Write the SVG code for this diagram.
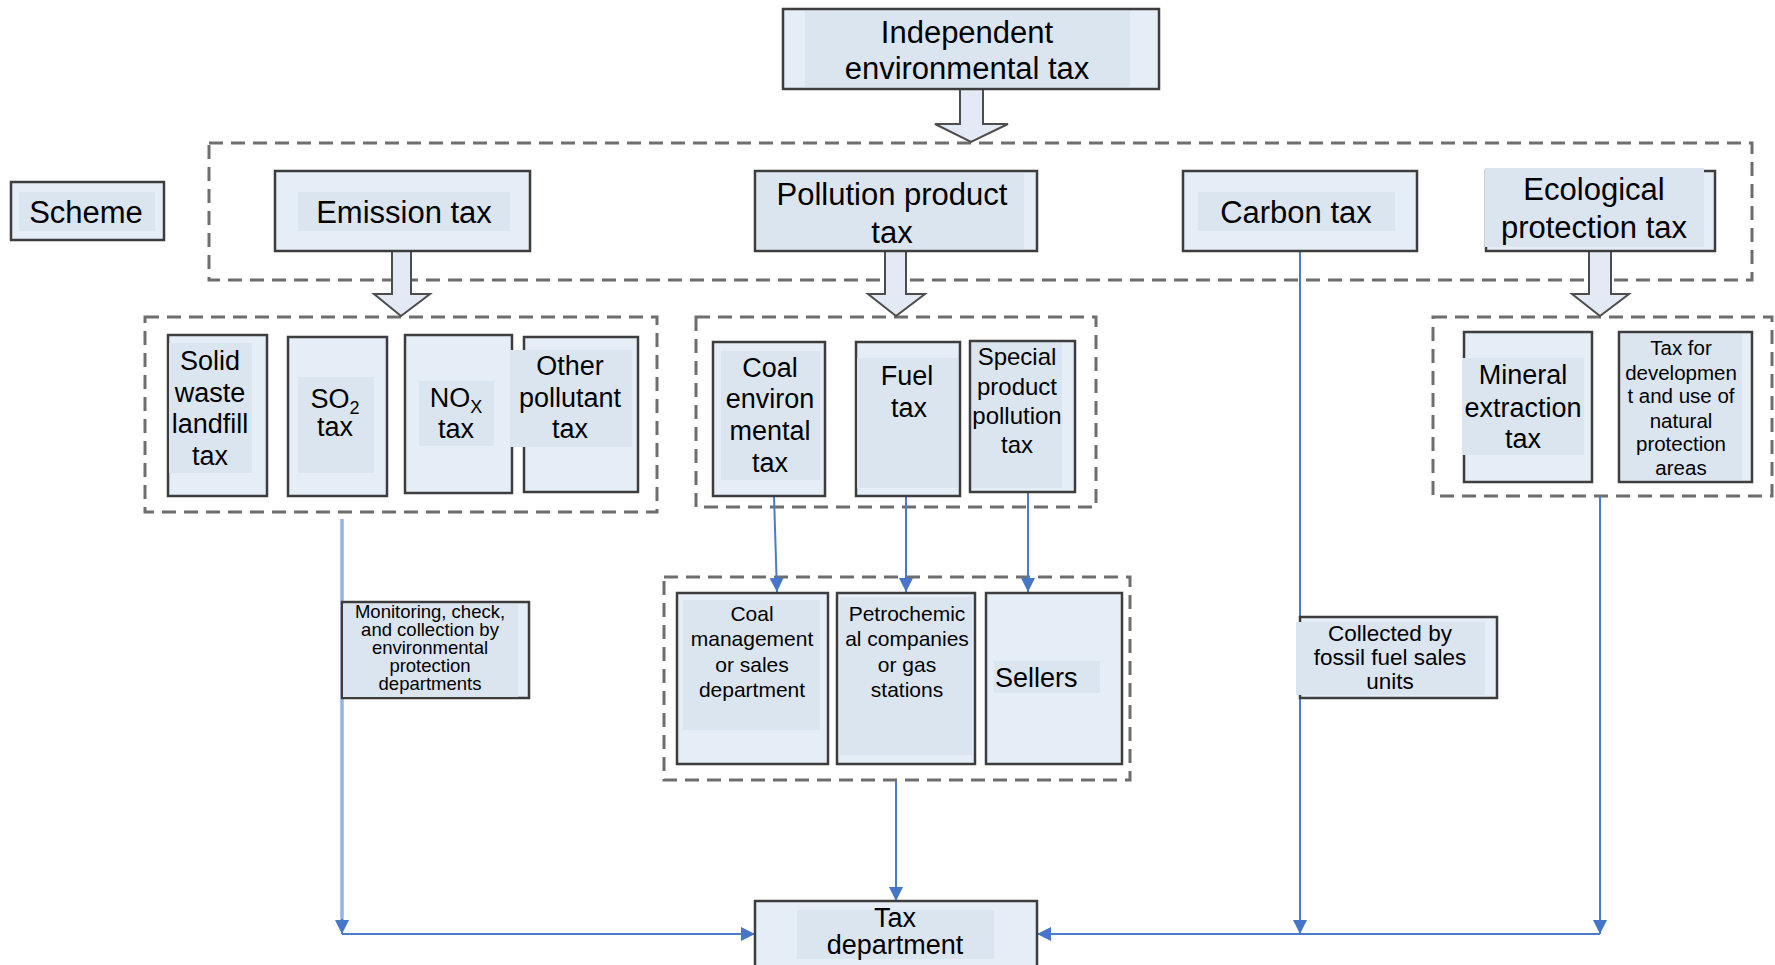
<svg xmlns="http://www.w3.org/2000/svg" width="1775" height="965" viewBox="0 0 1775 965">
<defs>
<style>
.box{fill:#e5edf7;stroke:#3d3d3d;stroke-width:2.5}
.hl{fill:#dbe5f0;stroke:none}
.grp{fill:none;stroke:#6e6e6e;stroke-width:3;stroke-dasharray:14 8}
.t{font-family:"Liberation Sans",Arial,sans-serif;fill:#000;text-anchor:middle}
.L{font-size:31px}
.M{font-size:27px}
.hollow{fill:#e3eaf5;stroke:#4d4d4d;stroke-width:2}
.conn{fill:none;stroke:#4a7cc9;stroke-width:2}
.connL{fill:none;stroke:#95b4e4;stroke-width:3.5}
</style>
<marker id="ah" markerUnits="userSpaceOnUse" markerWidth="16" markerHeight="16" refX="14" refY="7" orient="auto">
<path d="M0,0 L14,7 L0,14 z" fill="#4676c8"/>
</marker>
</defs>
<rect width="1775" height="965" fill="#fff"/>

<g id="groups">
<rect class="grp" x="209" y="143" width="1543" height="137"/>
<rect class="grp" x="145" y="317" width="512" height="195"/>
<rect class="grp" x="696" y="317" width="400" height="190"/>
<rect class="grp" x="1433" y="317" width="339" height="179"/>
<rect class="grp" x="664" y="577" width="466" height="203"/>
</g>

<g id="connectors">
<path class="connL" d="M342,519 V925"/>
<path class="conn" d="M342,919 V934" marker-end="url(#ah)"/>
<path class="conn" d="M342,934 H755" stroke-width="3" marker-end="url(#ah)"/>
<path class="conn" d="M896,781 V901" marker-end="url(#ah)"/>
<path class="conn" d="M1300,251 V934" marker-end="url(#ah)"/>
<path class="conn" d="M1600,496 V934" marker-end="url(#ah)"/>
<path class="conn" d="M1600,934 H1037" stroke-width="2.5" marker-end="url(#ah)"/>
<path class="conn" d="M774,496 L777,592" marker-end="url(#ah)"/>
<path class="conn" d="M906,496 V592" marker-end="url(#ah)"/>
<path class="conn" d="M1028,492 V592" marker-end="url(#ah)"/>
<polygon class="hollow" points="960,89 983,89 983,124 1008,124 971,142 935,124 960,124"/>
<polygon class="hollow" points="392,251 411,251 411,294 430,294 401,316 374,294 392,294"/>
<polygon class="hollow" points="885,251 906,251 906,294 925,294 896,316 868,294 885,294"/>
<polygon class="hollow" points="1589,251 1611,251 1611,294 1629,294 1600,316 1572,294 1589,294"/>
</g>

<g id="independent">
<rect class="box" x="783" y="9" width="376" height="80"/>
<rect class="hl" x="805" y="11" width="325" height="76"/>
<text class="t L" x="967" y="43">Independent</text>
<text class="t L" x="967" y="79">environmental tax</text>
</g>

<g id="scheme">
<rect class="box" x="11" y="182" width="153" height="58"/>
<rect class="hl" x="19" y="192" width="136" height="39"/>
<text class="t L" x="86" y="223">Scheme</text>
</g>

<g id="emission">
<rect class="box" x="275" y="171" width="255" height="80"/>
<rect class="hl" x="298" y="192" width="212" height="39"/>
<text class="t L" x="404" y="223">Emission tax</text>
</g>

<g id="pollution">
<rect class="box" x="755" y="171" width="282" height="80"/>
<rect class="hl" x="757" y="173" width="267" height="76"/>
<text class="t L" x="892" y="205">Pollution product</text>
<text class="t L" x="892" y="243">tax</text>
</g>

<g id="carbon">
<rect class="box" x="1183" y="171" width="234" height="80"/>
<rect class="hl" x="1198" y="192" width="197" height="39"/>
<text class="t L" x="1296" y="223">Carbon tax</text>
</g>

<g id="ecological">
<rect class="box" x="1486" y="171" width="229" height="80"/>
<rect class="hl" x="1485" y="168" width="219" height="79"/>
<text class="t L" x="1594" y="200">Ecological</text>
<text class="t L" x="1594" y="238">protection tax</text>
</g>

<g id="solid-waste">
<rect class="box" x="168" y="335" width="99" height="161"/>
<rect class="hl" x="169" y="343" width="83" height="130"/>
<text class="t M" x="210" y="370">Solid</text>
<text class="t M" x="210" y="402">waste</text>
<text class="t M" x="210" y="433">landfill</text>
<text class="t M" x="210" y="465">tax</text>
</g>

<g id="so2">
<rect class="box" x="288" y="337" width="99" height="159"/>
<rect class="hl" x="298" y="377" width="76" height="96"/>
<text class="t M" x="335" y="408">SO<tspan font-size="18" dy="6">2</tspan></text>
<text class="t M" x="335" y="436">tax</text>
</g>

<g id="nox">
<rect class="box" x="405" y="335" width="107" height="158"/>
<rect class="hl" x="419" y="381" width="75" height="65"/>
<text class="t M" x="456" y="407">NO<tspan font-size="18" dy="6">X</tspan></text>
<text class="t M" x="456" y="438">tax</text>
</g>

<g id="other-pollutant">
<rect class="box" x="524" y="337" width="114" height="155"/>
<rect class="hl" x="510" y="350" width="122" height="97"/>
<text class="t M" x="570" y="375">Other</text>
<text class="t M" x="570" y="407">pollutant</text>
<text class="t M" x="570" y="438">tax</text>
</g>

<g id="coal-env">
<rect class="box" x="713" y="342" width="112" height="154"/>
<rect class="hl" x="721" y="351" width="99" height="129"/>
<text class="t M" x="770" y="377">Coal</text>
<text class="t M" x="770" y="408">environ</text>
<text class="t M" x="770" y="440">mental</text>
<text class="t M" x="770" y="472">tax</text>
</g>

<g id="fuel">
<rect class="box" x="856" y="342" width="104" height="154"/>
<rect class="hl" x="857" y="358" width="101" height="130"/>
<text class="t M" x="907" y="385">Fuel</text>
<text class="t M" x="909" y="417">tax</text>
</g>

<g id="special">
<rect class="box" x="970" y="341" width="105" height="151"/>
<rect class="hl" x="972" y="343" width="90" height="145"/>
<text class="t" font-size="24" x="1017" y="365">Special</text>
<text class="t" font-size="24" x="1017" y="395">product</text>
<text class="t" font-size="24" x="1017" y="424">pollution</text>
<text class="t" font-size="24" x="1017" y="453">tax</text>
</g>

<g id="mineral">
<rect class="box" x="1464" y="332" width="128" height="150"/>
<rect class="hl" x="1462" y="358" width="122" height="97"/>
<text class="t M" x="1523" y="384">Mineral</text>
<text class="t M" x="1523" y="417">extraction</text>
<text class="t M" x="1523" y="448">tax</text>
</g>

<g id="natural-areas">
<rect class="box" x="1619" y="332" width="133" height="150"/>
<rect class="hl" x="1621" y="334" width="121" height="146"/>
<text class="t" font-size="20.5" x="1681" y="355">Tax for</text>
<text class="t" font-size="20.5" x="1681" y="380">developmen</text>
<text class="t" font-size="20.5" x="1681" y="403">t and use of</text>
<text class="t" font-size="20.5" x="1681" y="428">natural</text>
<text class="t" font-size="20.5" x="1681" y="451">protection</text>
<text class="t" font-size="20.5" x="1681" y="475">areas</text>
</g>

<g id="monitoring">
<rect class="box" x="342" y="602" width="187" height="96"/>
<rect class="hl" x="343" y="604" width="175" height="93"/>
<text class="t" font-size="18.5" x="430" y="618">Monitoring, check,</text>
<text class="t" font-size="18.5" x="430" y="636">and collection by</text>
<text class="t" font-size="18.5" x="430" y="654">environmental</text>
<text class="t" font-size="18.5" x="430" y="672">protection</text>
<text class="t" font-size="18.5" x="430" y="690">departments</text>
</g>

<g id="coal-mgmt">
<rect class="box" x="677" y="593" width="151" height="171"/>
<rect class="hl" x="683" y="600" width="137" height="130"/>
<text class="t" font-size="21" x="752" y="621">Coal</text>
<text class="t" font-size="21" x="752" y="646">management</text>
<text class="t" font-size="21" x="752" y="672">or sales</text>
<text class="t" font-size="21" x="752" y="697">department</text>
</g>

<g id="petrochemical">
<rect class="box" x="837" y="593" width="138" height="171"/>
<rect class="hl" x="840" y="597" width="132" height="158"/>
<text class="t" font-size="21" x="907" y="621">Petrochemic</text>
<text class="t" font-size="21" x="907" y="646">al companies</text>
<text class="t" font-size="21" x="907" y="672">or gas</text>
<text class="t" font-size="21" x="907" y="697">stations</text>
</g>

<g id="sellers">
<rect class="box" x="986" y="593" width="136" height="171"/>
<rect class="hl" x="994" y="661" width="106" height="32"/>
<text class="t M" x="995" y="687" style="text-anchor:start">Sellers</text>
</g>

<g id="collected">
<rect class="box" x="1300" y="617" width="197" height="81"/>
<rect class="hl" x="1296" y="622" width="189" height="73"/>
<text class="t" font-size="22.5" x="1390" y="641">Collected by</text>
<text class="t" font-size="22.5" x="1390" y="665">fossil fuel sales</text>
<text class="t" font-size="22.5" x="1390" y="689">units</text>
</g>

<g id="tax-department">
<rect class="box" x="755" y="901" width="282" height="80" stroke-width="3"/>
<rect class="hl" x="797" y="910" width="197" height="49"/>
<text class="t" font-size="27" x="895" y="927">Tax</text>
<text class="t" font-size="27" x="895" y="954">department</text>
</g>
</svg>
